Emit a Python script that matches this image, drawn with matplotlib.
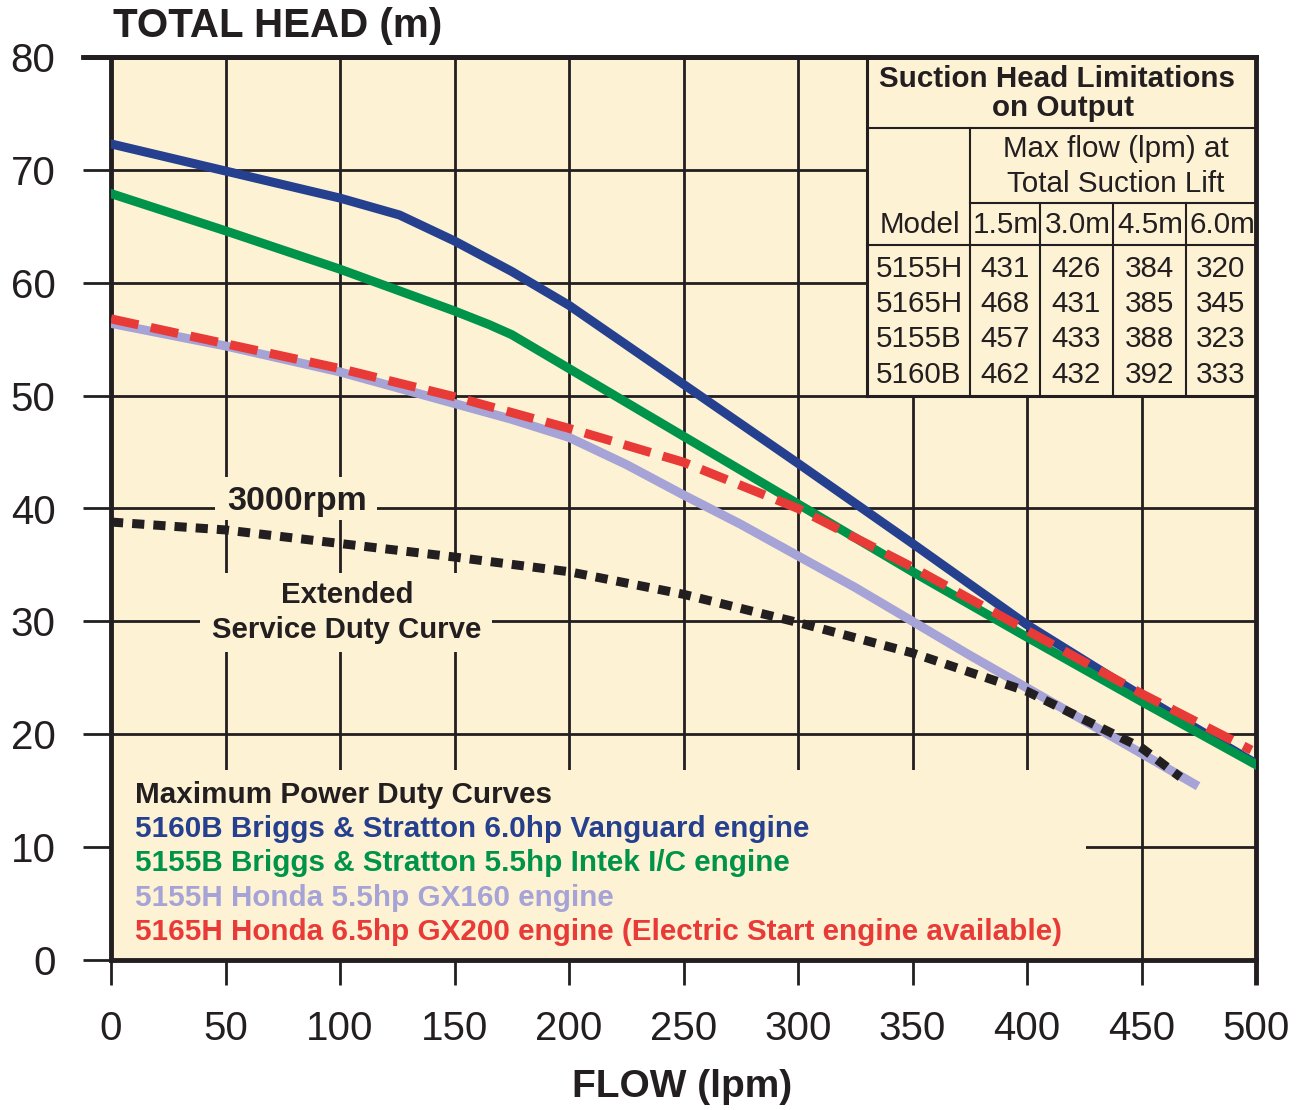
import matplotlib
matplotlib.use("Agg")
import matplotlib.pyplot as plt
from matplotlib.lines import Line2D
from matplotlib.patches import Rectangle

# ---------------- data ----------------
x_5160b = [0, 50, 100, 126, 150, 175, 200, 250, 300, 350, 400, 450, 500]
y_5160b = [72.3, 69.9, 67.5, 66.0, 63.7, 61.0, 58.0, 51.0, 44.0, 36.9, 29.7, 23.4, 17.4]

x_5155b = [0, 50, 100, 150, 165, 175, 185, 200, 250, 300, 350, 400, 450, 500]
y_5155b = [67.9, 64.6, 61.2, 57.5, 56.3, 55.4, 54.2, 52.4, 46.4, 40.4, 34.4, 28.6, 22.9, 17.3]

x_5155h = [0, 50, 100, 150, 175, 200, 225, 250, 275, 300, 325, 350, 375, 400, 425, 450, 473]
y_5155h = [56.4, 54.4, 52.1, 49.3, 47.9, 46.3, 43.9, 41.2, 38.6, 35.8, 33.0, 30.0, 27.0,
           24.1, 21.2, 18.3, 15.6]

x_5165h = [0, 50, 100, 150, 200, 250, 300, 350, 400, 450, 498]
y_5165h = [56.8, 54.6, 52.4, 49.9, 47.1, 44.1, 40.0, 34.8, 29.2, 23.6, 18.6]

x_3000 = [0, 50, 100, 150, 200, 250, 300, 350, 400, 450, 467]
y_3000 = [38.8, 38.1, 36.9, 35.7, 34.4, 32.4, 29.9, 27.2, 23.8, 18.8, 16.2]

x_ticks = [0, 50, 100, 150, 200, 250, 300, 350, 400, 450, 500]
y_ticks = [0, 10, 20, 30, 40, 50, 60, 70, 80]

legend_lines = [
    "Maximum Power Duty Curves",
    "5160B Briggs & Stratton 6.0hp Vanguard engine",
    "5155B Briggs & Stratton 5.5hp Intek I/C engine",
    "5155H Honda 5.5hp GX160 engine",
    "5165H Honda 6.5hp GX200 engine (Electric Start engine available)",
]

table_title = ["Suction Head Limitations", "on Output"]
table_subtitle = ["Max flow (lpm) at", "Total Suction Lift"]
table_cols = ["1.5m", "3.0m", "4.5m", "6.0m"]
table_models = ["5155H", "5165H", "5155B", "5160B"]
table_values = [
    [431, 426, 384, 320],
    [468, 431, 385, 345],
    [457, 433, 388, 323],
    [462, 432, 392, 333],
]

# ---------------- style ----------------
BG = "#FEF2D5"
INK = "#231F20"
BLUE = "#25408F"
GREEN = "#00944A"
LAV = "#A6A3D6"
RED = "#E83A36"
FONT = ["Liberation Sans", "DejaVu Sans"]
plt.rcParams["font.family"] = FONT

W, H = 1302, 1110
fig = plt.figure(figsize=(W / 100, H / 100), dpi=100)
L, R, T, B = 111, 1256, 57, 960
ax = fig.add_axes([L / W, (H - B) / H, (R - L) / W, (B - T) / H])
ax.set_facecolor(BG)


def ax_x(px):
    return (px - L) / (R - L)


def ax_y(py):
    return (B - py) / (B - T)


ax.set_xlim(0, 500)
ax.set_ylim(0, 80)
ax.set_xticks(x_ticks)
ax.set_yticks(y_ticks)
ax.set_xticklabels([str(v) for v in x_ticks])
ax.set_yticklabels([str(v) for v in y_ticks])
ax.set_axisbelow(True)
ax.grid(True, color=INK, linewidth=2.0)
for s in ax.spines.values():
    s.set_color(INK)
    s.set_linewidth(3.5)
ax.tick_params(axis="y", length=20, width=2.0, color=INK, labelsize=29,
               labelcolor=INK, pad=20)
ax.tick_params(axis="x", length=18, width=2.0, color=INK, labelsize=29,
               labelcolor=INK, pad=18)
xt = ax.xaxis.get_major_ticks()
yt = ax.yaxis.get_major_ticks()
xt[0].tick1line.set_color(BLUE)
yt[0].tick1line.set_color(BLUE)
xt[-1].tick1line.set_markeredgewidth(3.5)
yt[-1].tick1line.set_markeredgewidth(3.5)

# ---------------- curves ----------------
lw = 6.5
ax.plot(x_5160b, y_5160b, color=BLUE, lw=lw, zorder=3, solid_joinstyle="round")
ax.plot(x_5155b, y_5155b, color=GREEN, lw=lw, zorder=4, solid_joinstyle="round")
ax.plot(x_5155h, y_5155h, color=LAV, lw=lw, zorder=5, solid_joinstyle="round")
ax.plot(x_3000, y_3000, color=INK, lw=lw, zorder=6, linestyle=(0, (1.35, 1.0)),
        dash_capstyle="butt")
ax.plot(x_5165h, y_5165h, color=RED, lw=lw, zorder=7, linestyle=(0, (3.1, 1.4)),
        dash_capstyle="butt")


# ---------------- masking boxes ----------------
def mask(x0, y0, x1, y1):
    ax.add_patch(Rectangle((ax_x(x0), ax_y(y1)), ax_x(x1) - ax_x(x0),
                           ax_y(y0) - ax_y(y1), transform=ax.transAxes,
                           facecolor=BG, edgecolor="none", zorder=1))


mask(L, 770, 1086, B)        # legend area
mask(215, 477, 377, 520)     # 3000rpm
mask(200, 573, 492, 652)     # Extended service duty curve
mask(867, T, R, 396)         # table


def txt(px, py, s, **kw):
    kw.setdefault("color", INK)
    kw.setdefault("zorder", 8)
    ax.text(ax_x(px), ax_y(py), s, transform=ax.transAxes, **kw)


txt(297, 510, "3000rpm", fontsize=24.5, fontweight="bold", ha="center", va="baseline")
txt(347, 603, "Extended", fontsize=21.2, fontweight="bold", ha="center", va="baseline")
txt(347, 638, "Service Duty Curve", fontsize=21.2, fontweight="bold", ha="center", va="baseline")

# legend text
leg_colors = [INK, BLUE, GREEN, LAV, RED]
leg_base = [803, 837, 871, 906, 940]
for s, c, yb in zip(legend_lines, leg_colors, leg_base):
    txt(135, yb, s, fontsize=21.3, fontweight="bold", color=c, ha="left", va="baseline")


# ---------------- table ----------------
def tline(x0, y0, x1, y1, w=1.5):
    ax.add_line(Line2D([ax_x(x0), ax_x(x1)], [ax_y(y0), ax_y(y1)],
                       transform=ax.transAxes, color=INK, linewidth=w,
                       zorder=2, solid_capstyle="projecting"))


tx0, tx1, ty0, ty1 = 867, R, T, 396
tline(tx0, ty0, tx0, ty1, 2.2)
tline(tx0, ty1, tx1, ty1, 2.2)
tline(tx0, 128, tx1, 128)
tline(970, 128, 970, ty1)
tline(970, 203, tx1, 203)
col_edges = [970, 1040, 1113, 1186, R]
for xe in col_edges[1:-1]:
    tline(xe, 203, xe, ty1)
tline(tx0, 245, tx1, 245)

TFS = 21.3
txt(1057, 87, table_title[0], fontsize=TFS, fontweight="bold", ha="center", va="baseline")
txt(1063, 116, table_title[1], fontsize=TFS, fontweight="bold", ha="center", va="baseline")
txt(1116, 157, table_subtitle[0], fontsize=TFS, ha="center", va="baseline")
txt(1116, 192, table_subtitle[1], fontsize=TFS, ha="center", va="baseline")
txt(920, 233, "Model", fontsize=TFS, ha="center", va="baseline")
col_centers = [(a + b) / 2 for a, b in zip(col_edges[:-1], col_edges[1:])]
for c, xc in zip(table_cols, col_centers):
    txt(xc + 1, 233, c, fontsize=TFS, ha="center", va="baseline")
row_base = [277, 312, 347, 383]
for m, vals, yb in zip(table_models, table_values, row_base):
    txt(876, yb, m, fontsize=TFS, ha="left", va="baseline")
    for v, xc in zip(vals, col_centers):
        txt(xc, yb, str(v), fontsize=TFS, ha="center", va="baseline")

# top line extension to the left
ax.add_line(Line2D([ax_x(83), 1], [1, 1], transform=ax.transAxes, color=INK,
                   linewidth=3.5, clip_on=False, zorder=9))

# ---------------- titles ----------------
fig.text(113 / W, 1 - 37 / H, "TOTAL HEAD (m)", fontsize=29, fontweight="bold",
         color=INK, ha="left", va="baseline")
fig.text(682 / W, 1 - 1097 / H, "FLOW (lpm)", fontsize=28, fontweight="bold",
         color=INK, ha="center", va="baseline")

fig.savefig("out.png", dpi=100, facecolor="white")
